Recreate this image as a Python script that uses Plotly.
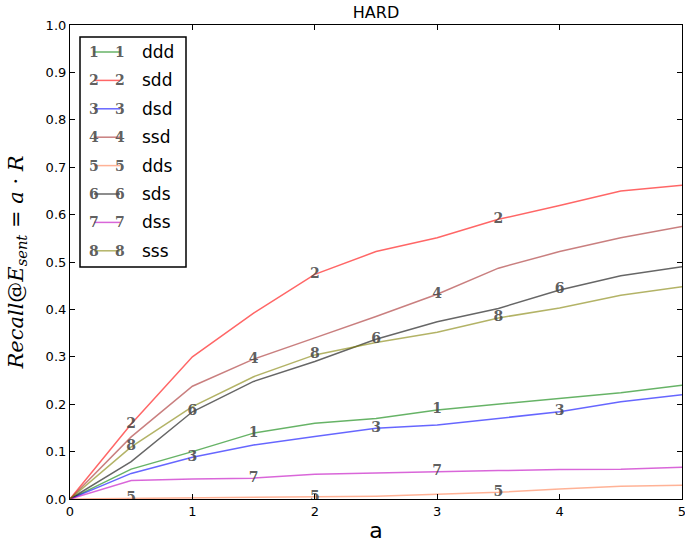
import plotly.graph_objects as go

# x positions (a)
a_vals = [0, 0.5, 1, 1.5, 2, 2.5, 3, 3.5, 4, 4.5, 5]

names = ['ddd', 'sdd', 'dsd', 'ssd', 'dds', 'sds', 'dss', 'sss']
ddd = [0, 0.063, 0.100, 0.139, 0.160, 0.170, 0.188, 0.200, 0.212, 0.224, 0.240]
sdd = [0, 0.158, 0.300, 0.392, 0.474, 0.522, 0.551, 0.590, 0.619, 0.650, 0.662]
dsd = [0, 0.054, 0.088, 0.114, 0.132, 0.149, 0.156, 0.170, 0.184, 0.205, 0.220]
ssd = [0, 0.131, 0.238, 0.295, 0.340, 0.385, 0.432, 0.487, 0.522, 0.551, 0.575]
dds = [0, 0.001, 0.002, 0.003, 0.004, 0.006, 0.010, 0.014, 0.021, 0.027, 0.029]
sds = [0, 0.079, 0.184, 0.248, 0.290, 0.337, 0.374, 0.402, 0.441, 0.471, 0.490]
dss = [0, 0.039, 0.042, 0.044, 0.052, 0.055, 0.058, 0.060, 0.062, 0.063, 0.067]
sss = [0, 0.110, 0.195, 0.258, 0.304, 0.330, 0.352, 0.382, 0.403, 0.430, 0.448]
series = [ddd, sdd, dsd, ssd, dds, sds, dss, sss]

# indices where the number markers are drawn
mark_idx = [[3, 6], [1, 4, 7], [2, 5, 8], [3, 6], [1, 4, 7], [2, 5, 8], [3, 6], [1, 4, 7]]

colors = ['rgba(0,128,0,0.6)', 'rgba(255,0,0,0.6)', 'rgba(0,0,255,0.6)', 'rgba(165,42,42,0.6)',
          'rgba(255,127,80,0.6)', 'rgba(0,0,0,0.6)', 'rgba(191,0,191,0.6)', 'rgba(128,128,0,0.6)']

mark_font = dict(family='DejaVu Serif', size=14, color='rgba(75,75,75,0.9)', weight='bold')

fig = go.Figure()
for i, (name, ys) in enumerate(zip(names, series)):
    fig.add_trace(go.Scatter(x=a_vals, y=ys, mode='lines', name=name,
                             line=dict(color=colors[i], width=1.5), showlegend=False))
for i, (name, ys) in enumerate(zip(names, series)):
    txt = [str(i + 1) if k in mark_idx[i] else '' for k in range(len(a_vals))]
    fig.add_trace(go.Scatter(x=a_vals, y=ys, mode='text', text=txt, textposition='middle center',
                             textfont=mark_font, showlegend=False, cliponaxis=True, hoverinfo='skip'))

# hand-made legend (pixel -> paper)
L, R, T, B = 70, 682, 25, 499
def px(x):
    return (x - L) / (R - L)
def py(y):
    return (B - y) / (B - T)

shapes = [dict(type='rect', xref='paper', yref='paper', x0=px(80), x1=px(186), y0=py(267), y1=py(37),
               line=dict(color='black', width=1.5), fillcolor='white', layer='above')]
annotations = []
for i, name in enumerate(names):
    yy = 52 + i * 28.4
    shapes.append(dict(type='line', xref='paper', yref='paper', x0=px(94), x1=px(120), y0=py(yy), y1=py(yy),
                       line=dict(color=colors[i], width=1.5), layer='above'))
    for xx in (94, 120):
        annotations.append(dict(xref='paper', yref='paper', x=px(xx), y=py(yy), text=str(i + 1),
                                showarrow=False, font=mark_font, xanchor='center', yanchor='middle'))
    annotations.append(dict(xref='paper', yref='paper', x=px(140), y=py(yy), text=name, showarrow=False,
                            font=dict(family='DejaVu Sans', size=17, color='black'),
                            xanchor='left', yanchor='middle'))

axis_common = dict(showgrid=False, zeroline=False, showline=True, linecolor='black', linewidth=1.2,
                   mirror='ticks', ticks='inside', ticklen=5, tickcolor='black', automargin=False,
                   ticklabeloverflow='allow',
                   tickfont=dict(family='DejaVu Sans', size=13, color='black'))

fig.update_layout(
    width=685, height=552,
    margin=dict(l=70, r=3, t=25, b=53),
    plot_bgcolor='white', paper_bgcolor='white',
    title=dict(text='HARD', x=0.5, xref='paper', y=1 - 12 / 552, yanchor='middle',
               font=dict(family='DejaVu Sans', size=16, color='black')),
    xaxis=dict(range=[0, 5], dtick=1,
               title=dict(text='a', font=dict(family='DejaVu Sans', size=22, color='black'), standoff=4),
               **axis_common),
    yaxis=dict(range=[0, 1], dtick=0.1, tickformat='.1f',
               title=dict(text='<i>Recall</i>@<i>E</i><sub><i>sent</i></sub> = <i>a</i> · <i>R</i>',
                          font=dict(family='DejaVu Serif', size=21, color='black'), standoff=16),
               **axis_common),
    shapes=shapes, annotations=annotations,
)

# drop the default page margin so the figure sits at the window's corner
fig.write_html("out.html", config={'displayModeBar': False},
               post_script="document.body.style.margin='0';")
